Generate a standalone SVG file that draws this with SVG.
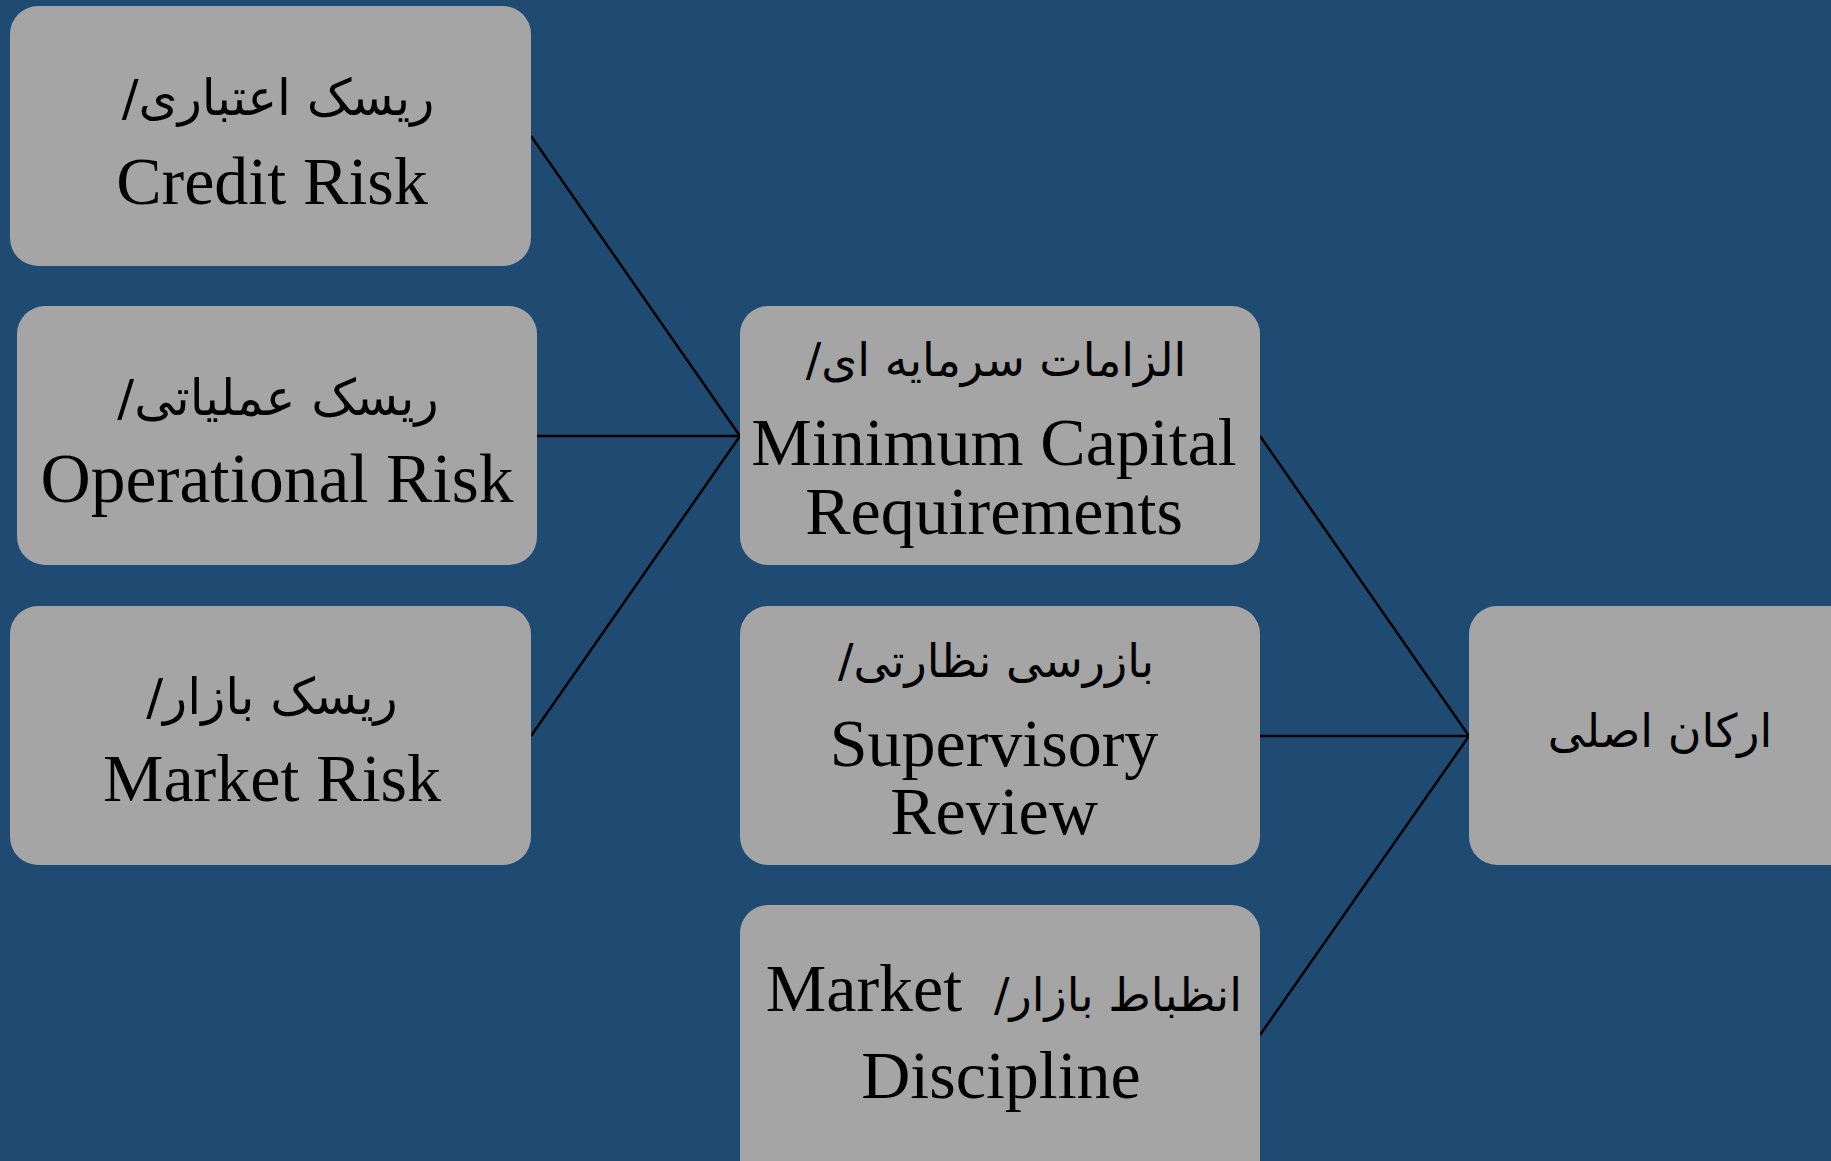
<svg xmlns="http://www.w3.org/2000/svg" width="1831" height="1161" viewBox="0 0 1831 1161">
<style>
.bg{fill:#1F4A72}
.box{fill:#A5A5A5}
.lat{font-family:"Liberation Serif","DejaVu Serif",serif;font-size:68px;fill:#000;text-anchor:middle}
.fa{font-family:"DejaVu Sans","Noto Sans",sans-serif;font-size:46px;fill:#000;text-anchor:middle}
.fa2{font-size:50px}
.edge{stroke:#000;stroke-width:2.5;fill:none}
</style>
<rect class="bg" x="0" y="0" width="1831" height="1161"/>
<g id="connectors">
<line class="edge" x1="531" y1="136" x2="740" y2="436"/>
<line class="edge" x1="537" y1="436" x2="740" y2="436"/>
<line class="edge" x1="531" y1="736" x2="740" y2="436"/>
<line class="edge" x1="1260" y1="436" x2="1469" y2="736"/>
<line class="edge" x1="1260" y1="736" x2="1469" y2="736"/>
<line class="edge" x1="1260" y1="1035" x2="1469" y2="736"/>
</g>
<g id="credit-risk">
<rect class="box" x="10" y="6" width="521" height="260" rx="28"/>
<text class="fa fa2" x="278" y="115" direction="rtl">ریسک اعتباری/</text>
<text class="lat" x="272" y="204">Credit Risk</text>
</g>
<g id="operational-risk">
<rect class="box" x="17" y="306" width="520" height="259" rx="28"/>
<text class="fa fa2" x="278" y="415" direction="rtl">ریسک عملیاتی/</text>
<text class="lat" x="277" y="502" style="font-size:69.5px">Operational Risk</text>
</g>
<g id="market-risk">
<rect class="box" x="10" y="606" width="521" height="259" rx="28"/>
<text class="fa fa2" x="272" y="714" direction="rtl">ریسک بازار/</text>
<text class="lat" x="272" y="801">Market Risk</text>
</g>
<g id="minimum-capital">
<rect class="box" x="740" y="306" width="520" height="259" rx="28"/>
<text class="fa" x="996" y="376" direction="rtl">الزامات سرمایه ای/</text>
<text class="lat" x="994" y="465">Minimum Capital</text>
<text class="lat" x="994" y="534">Requirements</text>
</g>
<g id="supervisory-review">
<rect class="box" x="740" y="606" width="520" height="259" rx="28"/>
<text class="fa" x="996" y="677" direction="rtl">بازرسی نظارتی/</text>
<text class="lat" x="994" y="766">Supervisory</text>
<text class="lat" x="994" y="834">Review</text>
</g>
<g id="market-discipline">
<rect class="box" x="740" y="905" width="520" height="290" rx="28"/>
<text class="lat" x="864" y="1011">Market</text>
<text class="fa" x="1118" y="1011" direction="rtl">انظباط بازار/</text>
<text class="lat" x="1001" y="1098">Discipline</text>
</g>
<g id="main-pillars">
<rect class="box" x="1469" y="606" width="520" height="259" rx="28"/>
<text class="fa" x="1660" y="747" direction="rtl">ارکان اصلی</text>
</g>
</svg>
